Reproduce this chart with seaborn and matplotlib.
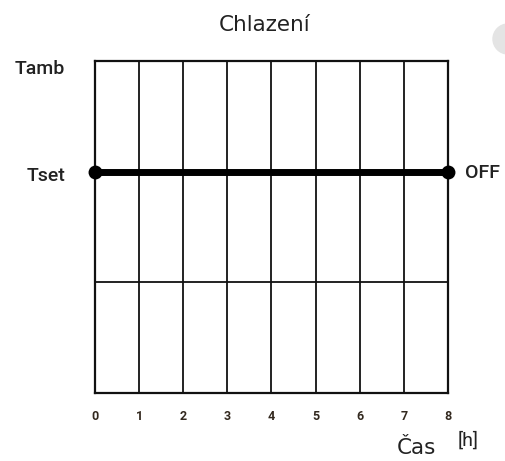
import numpy as np
import pandas as pd
import matplotlib
matplotlib.use("Agg")
import matplotlib.pyplot as plt
import seaborn as sns
from matplotlib.patches import Circle

# data
hours = [0, 1, 2, 3, 4, 5, 6, 7, 8]
hour_labels = ["0", "1", "2", "3", "4", "5", "6", "7", "8"]
level_names = ["Tset", "Tamb"]
level_values = [2, 3]
grid_levels = [1]
line_time = [0, 8]
line_temp = [2, 2]
end_state = "OFF"

sns.set_theme(style="white")
plt.rcParams['font.family'] = ['Roboto', 'DejaVu Sans']

fig = plt.figure(figsize=(5.06, 4.61), dpi=100)
ax = fig.add_axes([95 / 506, 68 / 461, 353 / 506, 332 / 461])

for h in hours:
    ax.axvline(h, color="#111111", lw=1.3, zorder=1)
for g in grid_levels:
    ax.axhline(g, color="#111111", lw=1.3, zorder=1)

df = pd.DataFrame({"time": line_time, "temp": line_temp})
sns.lineplot(data=df, x="time", y="temp", color="black", lw=5,
             marker="o", markersize=10, markeredgewidth=0, ax=ax, zorder=3,
             clip_on=False)

ax.set_xlim(0, 8)
ax.set_ylim(0, 3)
ax.set_xticks(hours)
ax.set_xticklabels(hour_labels, fontsize=9, fontweight="bold", color="#33291f")
ax.set_yticks([])
ax.tick_params(axis="x", length=0, pad=12)
ax.set_xlabel("")
ax.set_ylabel("")
for s in ax.spines.values():
    s.set_color("#111111")
    s.set_linewidth(1.6)

txt = dict(fontsize=14, color="#222222", fontweight="medium")
for name, val in zip(level_names, level_values):
    yoff = -0.07 if name == "Tamb" else -0.04
    ax.text(-0.68, val + yoff, name, ha="right", va="center", **txt)
ax.text(0.39 + line_time[-1], line_temp[-1] - 0.01, end_state,
        ha="left", va="center", **txt)

fig.text(265 / 506, 1 - 25 / 461, "Chlazení", ha="center", va="center",
         fontsize=15.5, color="#222222", family=["DejaVu Sans"])
fig.text(416 / 506, 1 - 448 / 461, "Čas", ha="center", va="center",
         fontsize=15.5, color="#222222", family=["DejaVu Sans"])
fig.text(468 / 506, 1 - 441 / 461, "[h]", ha="center", va="center",
         fontsize=14, color="#222222")

fig.patches.append(Circle((508, 461 - 39), 15, transform=None,
                          color="#e4e4e4", zorder=0))

fig.savefig("out.png", dpi=100)
